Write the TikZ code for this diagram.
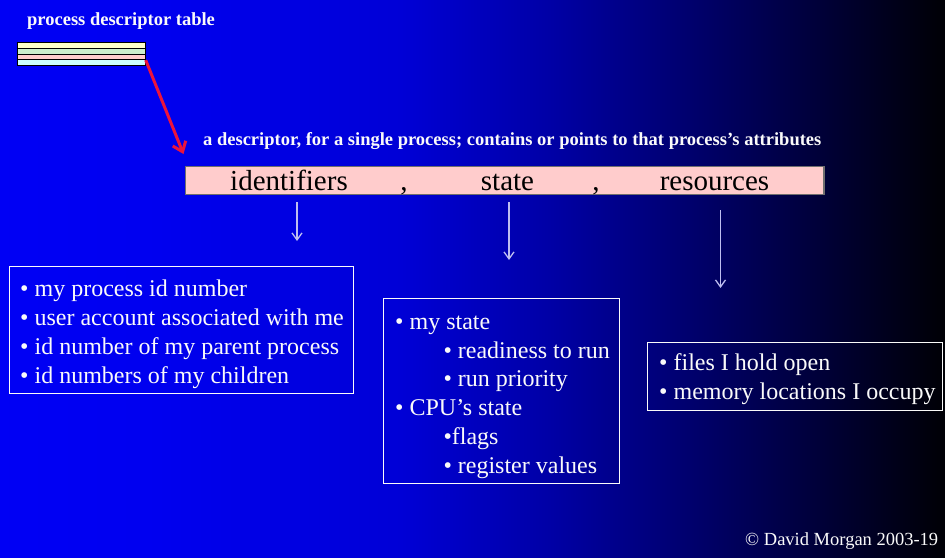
\documentclass[tikz,border=0pt]{standalone}
\usepackage{fontspec}
\setmainfont{Liberation Serif}
\usetikzlibrary{arrows.meta}

\definecolor{rowyellow}{RGB}{255,255,204}
\definecolor{rowgreen}{RGB}{204,238,204}
\definecolor{rowpink}{RGB}{255,204,204}
\definecolor{rowcyan}{RGB}{204,255,255}
\definecolor{barpink}{RGB}{255,204,204}
\definecolor{barrim}{RGB}{110,110,110}
\definecolor{ptr}{RGB}{235,20,60}
\definecolor{lilac}{RGB}{190,190,240}
\definecolor{paper}{RGB}{250,250,250}

% slide background: bright blue on the left fading to black on the right
\pgfdeclarehorizontalshading{slidebg}{100bp}{%
  rgb(0bp)=(0,0,0.96); rgb(25bp)=(0,0,0.96); rgb(32.9bp)=(0,0,0.94);
  rgb(46.2bp)=(0,0,0.84); rgb(54.1bp)=(0,0,0.65); rgb(63.1bp)=(0,0,0.38);
  rgb(75bp)=(0,0,0.02); rgb(100bp)=(0,0,0.02)}

\tikzset{
  rowbox/.style={draw=black, line width=1, minimum width=128, minimum height=5.6,
                 inner sep=0, anchor=north west},
  heading/.style={anchor=base west, inner sep=0, text=paper,
                  font=\bfseries\fontsize{18.5}{22}\selectfont},
  bartext/.style={anchor=base, inner sep=0, text=black,
                  font=\fontsize{29}{33}\selectfont},
  panel/.style={draw=paper, line width=1, inner sep=0, anchor=north west},
  item/.style={anchor=base west, inner sep=0, text=paper,
               font=\fontsize{24}{29}\selectfont},
  downarrow/.style={draw=lilac, line width=1.5,
                    -{Straight Barb[length=7pt,width=10pt,line width=1.3pt]}},
  pointer/.style={draw=ptr, line width=3,
                  -{Straight Barb[length=9pt,width=14pt,line width=3pt]}},
}

\begin{document}
\begin{tikzpicture}[x=1pt,y=-1pt]
\useasboundingbox (0,0) rectangle (945,557);
\shade[shading=slidebg] (0,0) rectangle (945,557);

% process descriptor table
\node[heading] (title) at (27,25) {process descriptor table};
\node[rowbox, fill=rowyellow] (row1) at (16.7,42.3) {};
\node[rowbox, fill=rowgreen]  (row2) at (16.7,47.9) {};
\node[rowbox, fill=rowpink]   (row3) at (16.7,53.5) {};
\node[rowbox, fill=rowcyan]   (row4) at (16.7,59.1) {};

% one descriptor
\node[heading] (desclabel) at (203,145)
  {a descriptor, for a single process; contains or points to that process’s attributes};
\node[draw=barrim, line width=1, fill=barpink, inner sep=0, anchor=north west,
      minimum width=638, minimum height=28] (bar) at (185,166) {};
\draw[barrim, line width=2] (bar.north east) -- (bar.south east);
\node[bartext] (idf)    at (289,190)   {identifiers};
\node[bartext] (comma1) at (404,190)   {,};
\node[bartext] (st)     at (507.5,190) {state};
\node[bartext] (comma2) at (596,190)   {,};
\node[bartext] (res)    at (714.5,190) {resources};

\coordinate (tip) at (183.5,154);
\draw[pointer] (row3.south east) -- (tip);

% arrows from the descriptor fields
\coordinate (d1) at (297,202);   \coordinate (e1) at (297,241);
\coordinate (d2) at (509,202);   \coordinate (e2) at (509,260);
\coordinate (d3) at (720.5,210); \coordinate (e3) at (720.5,288);
\draw[downarrow] (d1) -- (e1);
\draw[downarrow] (d2) -- (e2);
\draw[downarrow] (d3) -- (e3);

% identifiers
\node[panel, minimum width=344.3, minimum height=126.7] (idbox) at (9,266) {};
\node[item] (i1) at (20,296.8) {• my process id number};
\node[item] (i2) at (20,325.8) {• user account associated with me};
\node[item] (i3) at (20,354.5) {• id number of my parent process};
\node[item] (i4) at (20,383.3) {• id numbers of my children};

% state
\node[panel, minimum width=236, minimum height=184.4] (stbox) at (383.3,298.3) {};
\node[item] (s1) at (395,329.5)   {• my state};
\node[item] (s2) at (443.3,358.2) {• readiness to run};
\node[item] (s3) at (443.3,386.8) {• run priority};
\node[item] (s4) at (395,415.6)   {• CPU’s state};
\node[item] (s5) at (443.3,444.3) {•flags};
\node[item] (s6) at (443.3,473)   {• register values};

% resources
\node[panel, minimum width=294.4, minimum height=68.3] (resbox) at (647.3,341.7) {};
\node[item] (r1) at (659,370.5) {• files I hold open};
\node[item] (r2) at (659,399.2) {• memory locations I occupy};

\node[heading, font=\fontsize{18.5}{22}\selectfont] (copy) at (745,545.5)
  {© David Morgan 2003-19};
\end{tikzpicture}
\end{document}
